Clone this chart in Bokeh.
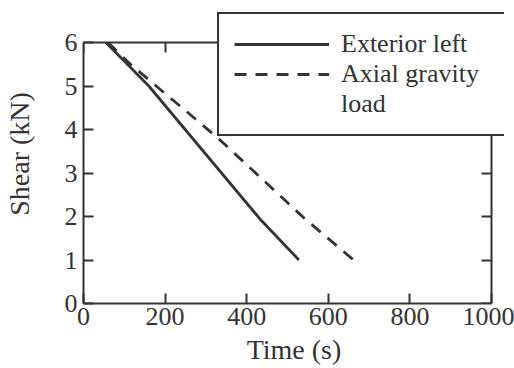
from bokeh.plotting import figure
from bokeh.models import LinearAxis, Legend, LegendItem, ColumnDataSource, Range1d, FixedTicker
from bokeh.embed import file_html
from bokeh.resources import INLINE

# Data
ext_time = [55, 160, 432, 528]
ext_shear = [6.0, 5.0, 1.95, 1.0]
axial_time = [60, 115, 330, 540, 662]
axial_shear = [6.0, 5.5, 3.8, 1.97, 1.0]
x_ticks = [0, 200, 400, 600, 800, 1000]
y_ticks = [0, 1, 2, 3, 4, 5, 6]
x_lim = (0, 1000)
y_lim = (0, 6)
labels = ["Exterior left", "Axial gravity", "load"]

FONT = "'Liberation Serif', 'Times New Roman', Times, 'DejaVu Serif', serif"
INK = "#333333"

# frame spans a bit beyond the data box so the legend (which sticks out of the box) is not clipped
X_END = 1031.9
Y_END = 6.874

p = figure(width=514, height=368, output_backend="svg", toolbar_location=None,
           x_range=Range1d(0, X_END), y_range=Range1d(0, Y_END),
           min_border_left=83, min_border_right=10, min_border_top=4, min_border_bottom=65,
           x_axis_label="Time (s)", y_axis_label="Shear (kN)")
p.background_fill_color = "white"
p.border_fill_color = "white"
p.outline_line_color = None
p.grid.visible = False


def style_axis(ax, ticks, bounds):
    ax.ticker = FixedTicker(ticks=ticks)
    ax.bounds = bounds
    ax.axis_line_color = INK
    ax.axis_line_width = 2
    ax.major_tick_line_color = INK
    ax.major_tick_line_width = 2
    ax.major_tick_in = 10
    ax.major_tick_out = 0
    ax.minor_tick_line_color = None


style_axis(p.xaxis[0], x_ticks, x_lim)
style_axis(p.yaxis[0], y_ticks, y_lim)
for ax in (p.xaxis[0], p.yaxis[0]):
    ax.major_label_text_font = FONT
    ax.major_label_text_font_size = "26px"
    ax.major_label_text_color = INK
    ax.axis_label_text_font = FONT
    ax.axis_label_text_font_size = "28px"
    ax.axis_label_text_font_style = "normal"
    ax.axis_label_text_color = INK

p.xaxis[0].major_label_standoff = 4
p.xaxis[0].axis_label_standoff = 6
p.yaxis[0].major_label_standoff = 6
p.yaxis[0].axis_label_standoff = 27

# top and right box edges with inward ticks
top_ax = LinearAxis(fixed_location=y_lim[1])
style_axis(top_ax, x_ticks, x_lim)
right_ax = LinearAxis(fixed_location=x_lim[1])
style_axis(right_ax, y_ticks, y_lim)
for ax in (top_ax, right_ax):
    ax.major_label_text_color = None
    ax.major_label_text_font_size = "0px"
p.add_layout(top_ax, "above")
p.add_layout(right_ax, "right")

src_ext = ColumnDataSource(dict(x=ext_time, y=ext_shear))
src_ax = ColumnDataSource(dict(x=axial_time, y=axial_shear))
r1 = p.line("x", "y", source=src_ext, line_color=INK, line_width=2.8)
r2 = p.line("x", "y", source=src_ax, line_color=INK, line_width=2.8, line_dash="12 9")
r3 = p.line(x=[], y=[], line_alpha=0)

legend = Legend(items=[LegendItem(label=labels[0], renderers=[r1]),
                       LegendItem(label=labels[1], renderers=[r2]),
                       LegendItem(label=labels[2], renderers=[r3])],
                location=(134, 167), margin=0, padding=15, spacing=0,
                glyph_width=95, glyph_height=30, label_height=30, label_width=149,
                label_standoff=12,
                label_text_font=FONT, label_text_font_size="26px", label_text_color=INK,
                border_line_color=INK, border_line_width=2.2, border_line_alpha=1,
                background_fill_alpha=1, level="overlay")
p.add_layout(legend, "center")

open("out.html", "w").write(file_html(p, INLINE))
